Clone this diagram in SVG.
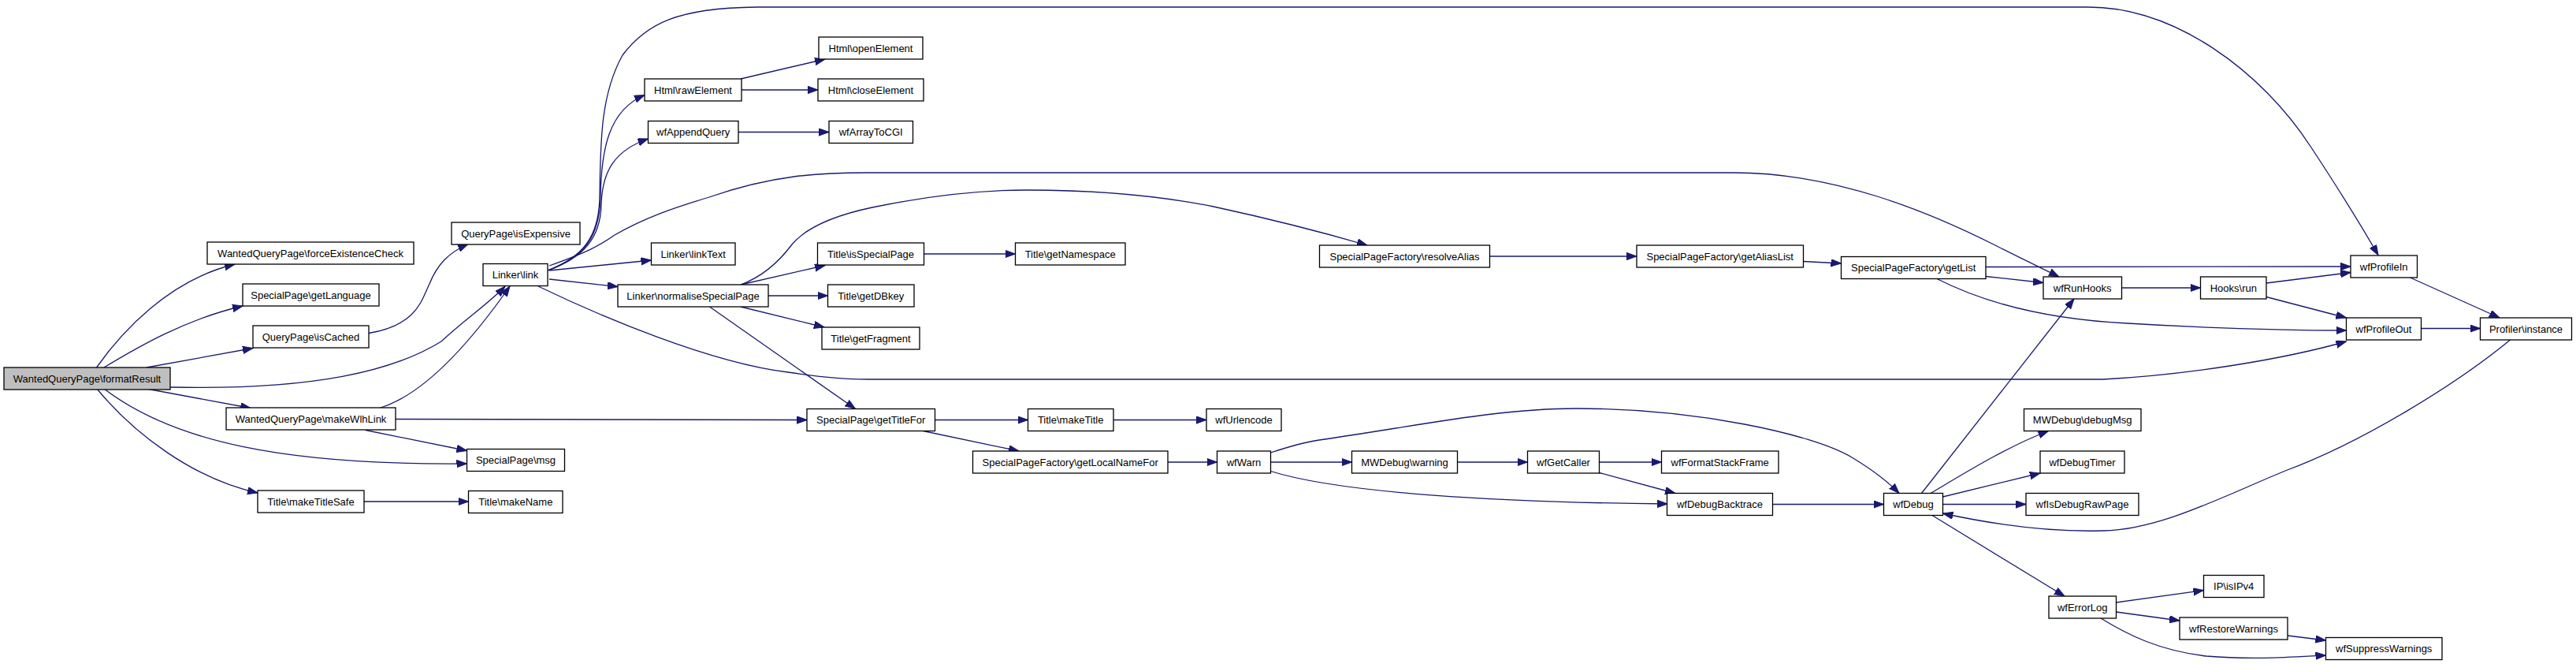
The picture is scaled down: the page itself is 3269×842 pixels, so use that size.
<svg xmlns="http://www.w3.org/2000/svg" width="3269" height="842" viewBox="0 0 3269 842">
<style>
.n rect{fill:#ffffff;stroke:#000000;stroke-width:1.3}
.n.root rect{fill:#bfbfbf}
.n text{font-family:"Liberation Sans",Arial,sans-serif;font-size:13px;fill:#000000;text-anchor:middle}
.e path{fill:none;stroke:#191970;stroke-width:1.3;marker-end:url(#arr)}
</style>
<defs>
<marker id="arr" markerUnits="userSpaceOnUse" markerWidth="14" markerHeight="10" refX="13" refY="4.7" orient="auto">
<path d="M0,0 L13,4.7 L0,9.4 z" fill="#191970" stroke="#191970" stroke-width="1"/>
</marker>
</defs>
<rect x="0" y="0" width="3269" height="842" fill="#ffffff"/>
<g id="edges" class="e">
<path d="M122.5,466 C155,420 215,355 298,335"/>
<path d="M132,466 C175,440 235,405 308,388"/>
<path d="M186,466 L321,441.5"/>
<path d="M216,491 C400,495 500,470 560,433 C590,405 620,385 641,363"/>
<path d="M186,493 L318,517.5"/>
<path d="M132,493 C220,560 360,590 592.5,588"/>
<path d="M123,493 C170,550 245,607 327,625"/>
<path d="M481.5,517.5 C540,500 600,430 647,363"/>
<path d="M502,531.5 L1024,532.5"/>
<path d="M464,545.5 L592.5,571.5"/>
<path d="M462,636 L594.5,636"/>
<path d="M468,422.5 C530,412 535,380 545,360 C555,335 570,320 594,309.5"/>
<path d="M695,343 C740,326 760,300 761,250 C762,180 762,120 790,70 C820,30 860,10 960,9 L2650,9 C2760,9 2870,90 2933,187 C2960,228 2990,275 3018,323.5"/>
<path d="M695,343 C742,325 761,300 762,250 C763,190 772,140 818,120.5"/>
<path d="M695,343 C740,327 762,302 763,260 C764,215 782,190 822.5,176"/>
<path d="M697,337 C745,320 760,312 780,298 C820,275 860,262 900,250 C980,222 1040,219 1100,219 L2200,219 C2330,219 2450,270 2530,310 C2565,328 2595,342 2613,351"/>
<path d="M697,343 L826.5,330"/>
<path d="M697,354 L784,363.5"/>
<path d="M683,363 C760,400 900,460 1000,472 C1040,478 1070,481 1100,481 L2669,481 C2780,475 2900,455 2977.5,433"/>
<path d="M940,361 C970,350 990,330 1005,310 C1020,292 1050,275 1107,263 C1170,250 1240,241 1303,241 C1400,241 1480,250 1540,262 C1600,275 1680,295 1735,311"/>
<path d="M940,361 L1047,336.5"/>
<path d="M975,375 L1050.5,375"/>
<path d="M940,389 L1046,415"/>
<path d="M900.5,389 L1085.5,518.5"/>
<path d="M940,100 L1047,75"/>
<path d="M941,114 L1038,114"/>
<path d="M937,167.5 L1052,167.5"/>
<path d="M1172.5,322 L1288.5,322"/>
<path d="M1186.5,532.5 L1304.5,532.5"/>
<path d="M1171.5,546.5 L1293,572"/>
<path d="M1413,532.5 L1531,532.5"/>
<path d="M1482,586 L1544.5,586"/>
<path d="M1890.5,325 L2077,325"/>
<path d="M2288.5,331.5 L2336.5,334"/>
<path d="M2520,338.5 L2983,338"/>
<path d="M2520,350.5 L2593,358.5"/>
<path d="M2458,353.5 C2520,385 2600,405 2700,410 C2800,416 2900,419 2977.5,419"/>
<path d="M2692.5,365 L2792.5,365"/>
<path d="M2876,359 L2983,345.5"/>
<path d="M2876,376.5 L2977.5,403"/>
<path d="M3058.5,352 L3172,403"/>
<path d="M3073,416.5 L3147.5,416.5"/>
<path d="M3185.5,431 C3120,485 3000,560 2900,597 C2820,630 2740,672 2669,673 C2600,675 2530,665 2465.5,651"/>
<path d="M1612.5,586 L1715.5,586"/>
<path d="M1612.5,574 C1640,565 1660,560 1674,558 C1800,540 1900,518 2000,518 C2150,518 2300,550 2350,580 C2375,595 2395,610 2410,625.5"/>
<path d="M1612.5,597.5 C1700,625 1900,637 2116,639"/>
<path d="M1849.5,586 L1938.5,586"/>
<path d="M2029.5,586 L2108.5,586"/>
<path d="M2029.5,599.5 L2126,625.5"/>
<path d="M2249.5,639.5 L2390.5,639.5"/>
<path d="M2438.5,625.5 L2632,379"/>
<path d="M2450,625.5 C2485,605 2545,567 2599.5,546.5"/>
<path d="M2465.5,630 L2589,600"/>
<path d="M2465.5,639.5 L2571,639.5"/>
<path d="M2452,653.5 L2620,756"/>
<path d="M2685.5,764 L2796.5,748.5"/>
<path d="M2685.5,776 L2766,787"/>
<path d="M2666,784 C2700,805 2740,825 2800,832 C2860,837 2910,833 2951.5,831"/>
<path d="M2903,806 L2951.5,812"/>
</g>
<g id="n_formatResult" class="n root"><rect x="5" y="466" width="211" height="28"/><text x="110.5" y="484.5">WantedQueryPage\formatResult</text></g>
<g id="n_forceExistenceCheck" class="n"><rect x="263" y="307" width="262" height="28"/><text x="394" y="325.5">WantedQueryPage\forceExistenceCheck</text></g>
<g id="n_getLanguage" class="n"><rect x="308" y="360" width="173" height="28"/><text x="394.5" y="378.5">SpecialPage\getLanguage</text></g>
<g id="n_isCached" class="n"><rect x="321" y="413" width="147" height="28"/><text x="394.5" y="431.5">QueryPage\isCached</text></g>
<g id="n_makeWlhLink" class="n"><rect x="287" y="517" width="215" height="28"/><text x="394.5" y="535.5">WantedQueryPage\makeWlhLink</text></g>
<g id="n_makeTitleSafe" class="n"><rect x="327" y="622" width="135" height="28"/><text x="394.5" y="640.5">Title\makeTitleSafe</text></g>
<g id="n_isExpensive" class="n"><rect x="573" y="282" width="163" height="28"/><text x="654.5" y="300.5">QueryPage\isExpensive</text></g>
<g id="n_link" class="n"><rect x="613" y="334.5" width="82" height="28"/><text x="654" y="353">Linker\link</text></g>
<g id="n_msg" class="n"><rect x="592.5" y="569.5" width="124" height="28"/><text x="654.5" y="588">SpecialPage\msg</text></g>
<g id="n_makeName" class="n"><rect x="594.5" y="622.5" width="119.5" height="28"/><text x="654.3" y="641">Title\makeName</text></g>
<g id="n_rawElement" class="n"><rect x="818" y="100" width="123" height="28"/><text x="879.5" y="118.5">Html\rawElement</text></g>
<g id="n_wfAppendQuery" class="n"><rect x="822.5" y="153.5" width="114.5" height="28"/><text x="879.7" y="172">wfAppendQuery</text></g>
<g id="n_linkText" class="n"><rect x="826.5" y="308" width="106.5" height="28"/><text x="879.7" y="326.5">Linker\linkText</text></g>
<g id="n_normaliseSpecialPage" class="n"><rect x="784" y="361" width="191" height="28"/><text x="879.5" y="379.5">Linker\normaliseSpecialPage</text></g>
<g id="n_openElement" class="n"><rect x="1039" y="47" width="132" height="28"/><text x="1105" y="65.5">Html\openElement</text></g>
<g id="n_closeElement" class="n"><rect x="1038" y="100" width="134" height="28"/><text x="1105" y="118.5">Html\closeElement</text></g>
<g id="n_wfArrayToCGI" class="n"><rect x="1052" y="153.5" width="106.5" height="28"/><text x="1105.2" y="172">wfArrayToCGI</text></g>
<g id="n_isSpecialPage" class="n"><rect x="1037.5" y="308" width="135" height="28"/><text x="1105" y="326.5">Title\isSpecialPage</text></g>
<g id="n_getDBkey" class="n"><rect x="1050.5" y="361" width="109.5" height="28"/><text x="1105.2" y="379.5">Title\getDBkey</text></g>
<g id="n_getFragment" class="n"><rect x="1043" y="415" width="124" height="28"/><text x="1105" y="433.5">Title\getFragment</text></g>
<g id="n_getTitleFor" class="n"><rect x="1024" y="518.5" width="162.5" height="28"/><text x="1105.2" y="537">SpecialPage\getTitleFor</text></g>
<g id="n_getNamespace" class="n"><rect x="1288.5" y="308" width="139.5" height="28"/><text x="1358.2" y="326.5">Title\getNamespace</text></g>
<g id="n_makeTitle" class="n"><rect x="1304.5" y="518.5" width="108.5" height="28"/><text x="1358.7" y="537">Title\makeTitle</text></g>
<g id="n_getLocalNameFor" class="n"><rect x="1234.5" y="572" width="247.5" height="28"/><text x="1358.2" y="590.5">SpecialPageFactory\getLocalNameFor</text></g>
<g id="n_wfUrlencode" class="n"><rect x="1531" y="518.5" width="95" height="28"/><text x="1578.5" y="537">wfUrlencode</text></g>
<g id="n_wfWarn" class="n"><rect x="1544.5" y="572" width="68" height="28"/><text x="1578.5" y="590.5">wfWarn</text></g>
<g id="n_resolveAlias" class="n"><rect x="1674.5" y="311" width="216" height="28"/><text x="1782.5" y="329.5">SpecialPageFactory\resolveAlias</text></g>
<g id="n_warning" class="n"><rect x="1715.5" y="572" width="134" height="28"/><text x="1782.5" y="590.5">MWDebug\warning</text></g>
<g id="n_getAliasList" class="n"><rect x="2077" y="311" width="211.5" height="28"/><text x="2182.7" y="329.5">SpecialPageFactory\getAliasList</text></g>
<g id="n_wfGetCaller" class="n"><rect x="1938.5" y="572" width="91" height="28"/><text x="1984" y="590.5">wfGetCaller</text></g>
<g id="n_wfFormatStackFrame" class="n"><rect x="2108.5" y="572" width="148.5" height="28"/><text x="2182.7" y="590.5">wfFormatStackFrame</text></g>
<g id="n_wfDebugBacktrace" class="n"><rect x="2115.5" y="625.5" width="134" height="28"/><text x="2182.5" y="644">wfDebugBacktrace</text></g>
<g id="n_getList" class="n"><rect x="2336.5" y="325.5" width="183.5" height="28"/><text x="2428.2" y="344">SpecialPageFactory\getList</text></g>
<g id="n_wfDebug" class="n"><rect x="2390.5" y="625.5" width="75" height="28"/><text x="2428" y="644">wfDebug</text></g>
<g id="n_wfRunHooks" class="n"><rect x="2593" y="351" width="99.5" height="28"/><text x="2642.7" y="369.5">wfRunHooks</text></g>
<g id="n_debugMsg" class="n"><rect x="2568.5" y="518.5" width="148.5" height="28"/><text x="2642.7" y="537">MWDebug\debugMsg</text></g>
<g id="n_wfDebugTimer" class="n"><rect x="2589" y="572" width="107" height="28"/><text x="2642.5" y="590.5">wfDebugTimer</text></g>
<g id="n_wfIsDebugRawPage" class="n"><rect x="2571" y="625.5" width="143" height="28"/><text x="2642.5" y="644">wfIsDebugRawPage</text></g>
<g id="n_wfErrorLog" class="n"><rect x="2600" y="756" width="85.5" height="28"/><text x="2642.7" y="774.5">wfErrorLog</text></g>
<g id="n_hooksRun" class="n"><rect x="2792.5" y="351" width="83.5" height="28"/><text x="2834.3" y="369.5">Hooks\run</text></g>
<g id="n_isIPv4" class="n"><rect x="2796.5" y="729.5" width="76.5" height="28"/><text x="2834.7" y="748">IP\isIPv4</text></g>
<g id="n_wfRestoreWarnings" class="n"><rect x="2766" y="783" width="137" height="28"/><text x="2834.5" y="801.5">wfRestoreWarnings</text></g>
<g id="n_wfProfileIn" class="n"><rect x="2983" y="324" width="84.5" height="28"/><text x="3025.2" y="342.5">wfProfileIn</text></g>
<g id="n_wfProfileOut" class="n"><rect x="2977.5" y="403" width="95" height="28"/><text x="3025" y="421.5">wfProfileOut</text></g>
<g id="n_wfSuppressWarnings" class="n"><rect x="2951.5" y="808.5" width="147.5" height="28"/><text x="3025.2" y="827">wfSuppressWarnings</text></g>
<g id="n_profilerInstance" class="n"><rect x="3147.5" y="403" width="116" height="28"/><text x="3205.5" y="421.5">Profiler\instance</text></g>
</svg>
